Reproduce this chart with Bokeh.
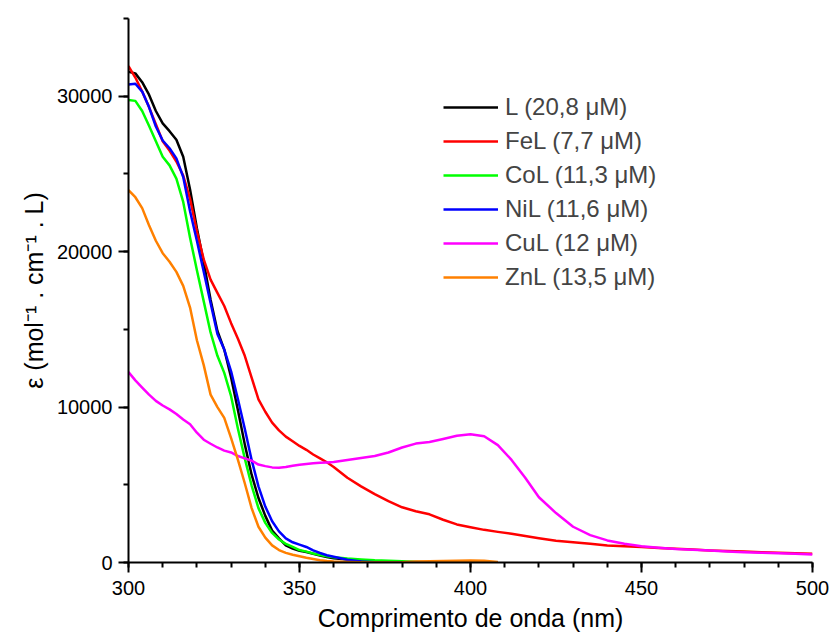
from bokeh.plotting import figure
from bokeh.models import Range1d, FixedTicker, Legend, LegendItem
from bokeh.embed import file_html
from bokeh.resources import INLINE

# ---- data ----
wl = ([300, 302, 304, 306, 308, 310, 312, 314, 316, 318, 320, 322, 324, 326, 328, 330,
       332, 334, 336, 338, 340, 342, 344, 346, 348, 350, 352, 354, 356, 358, 360]
      + [364, 368, 372, 376, 380, 384, 388, 392, 396, 400, 404, 408, 412, 416, 420]
      + [425, 430, 435, 440, 445, 450, 455, 460, 465, 470, 475, 480, 485, 490, 495, 500])

eps_L = [31570, 31470, 30900, 30100, 29050, 28250, 27750, 27200, 26100, 24000, 21500,
         19300, 16900, 14900, 13700, 11900, 9800, 7600, 5650, 4150, 3000, 2050, 1550,
         1100, 900, 750, 680, 560, 450, 360, 280,
         200, 150, 100, 80, 50, 40, 20, 10, 0, 0, 0, 0]

eps_Fe = [31940, 31200, 30300, 29300, 28200, 27100, 26500, 25800, 24900, 23400, 21300,
          19500, 18200, 17350, 16500, 15400, 14400, 13300, 11900, 10500, 9700, 9000, 8500,
          8100, 7800, 7500, 7250, 6950, 6700, 6450, 6150,
          5450, 4900, 4400, 3950, 3550, 3300, 3100, 2750, 2450, 2270, 2100, 1970, 1850,
          1700, 1560,
          1400, 1310, 1200, 1090, 1040, 990, 930, 880, 830, 780, 740, 700, 660, 630, 600, 560]

eps_Co = [29750, 29700, 29050, 28100, 27100, 26100, 25550, 24700, 23200, 20900, 18800,
          16800, 14800, 13300, 12200, 10700, 8600, 6700, 4950, 3500, 2550, 1900, 1480,
          1200, 1000, 800, 700, 580, 480, 400, 340,
          260, 200, 150, 120, 80, 40, 10, 0, 0, 0, 0, 0]

eps_Ni = [30760, 30800, 30300, 29300, 28050, 27150, 26650, 26000, 24800, 22600, 20700,
          18700, 16700, 14700, 13700, 12300, 10500, 8600, 6600, 4900, 3600, 2650, 2000,
          1550, 1300, 1150, 1000, 780, 610, 470, 370,
          180, 70, 20, 0, 0, 0, 0, 0, 0, 0, 0, 0]

eps_Cu = [12250, 11720, 11250, 10800, 10400, 10100, 9850, 9550, 9200, 8900, 8350, 7900,
          7640, 7400, 7200, 7080, 6850, 6700, 6550, 6300, 6200, 6120, 6100, 6150, 6230,
          6290, 6340, 6380, 6420, 6440, 6460,
          6600, 6720, 6850, 7080, 7400, 7650, 7750, 7940, 8150, 8250, 8120, 7550, 6600,
          5450, 4200,
          3180, 2300, 1760, 1420, 1200, 1050, 950, 870, 820, 770, 710, 660, 630, 600, 560, 520]

eps_Zn = [23950, 23500, 22800, 21700, 20700, 19900, 19350, 18700, 17800, 16400, 14300,
          12700, 10800, 10000, 9300, 8000, 6600, 5100, 3500, 2300, 1600, 1100, 800,
          620, 500, 400, 300, 220, 150, 100, 60,
          30, 10, 0, 0, 20, 60, 80, 100, 120, 130, 110, 40]

labels = ["L (20,8 \u03bcM)", "FeL (7,7 \u03bcM)", "CoL (11,3 \u03bcM)",
          "NiL (11,6 \u03bcM)", "CuL (12 \u03bcM)", "ZnL (13,5 \u03bcM)"]
colors = ["#000000", "#ff0000", "#00ff00", "#0000ff", "#ff00ff", "#ff8000"]
series = [eps_L, eps_Fe, eps_Co, eps_Ni, eps_Cu, eps_Zn]

x_ticks = [300, 350, 400, 450, 500]
x_minor = list(range(300, 501, 10))
y_ticks = [0, 10000, 20000, 30000]
y_minor = list(range(0, 35001, 5000))

FONT = "Liberation Sans"

p = figure(width=830, height=639, output_backend="svg", toolbar_location=None,
           x_range=Range1d(300, 500), y_range=Range1d(0, 35000),
           min_border_left=128, min_border_right=18, min_border_top=18,
           min_border_bottom=77)
p.xgrid.visible = False
p.ygrid.visible = False
p.outline_line_color = None
p.background_fill_color = "white"
p.border_fill_color = "white"

items = []
for lab, col, ys in zip(labels, colors, series):
    r = p.line(wl[:len(ys)], ys, line_color=col, line_width=2.5, line_join="round")
    items.append(LegendItem(label=lab, renderers=[r]))

p.xaxis.ticker = FixedTicker(ticks=x_ticks, minor_ticks=x_minor)
p.yaxis.ticker = FixedTicker(ticks=y_ticks, minor_ticks=y_minor)

for ax in (p.xaxis[0], p.yaxis[0]):
    ax.axis_line_width = 2
    ax.axis_line_color = "black"
    ax.major_tick_line_width = 2
    ax.minor_tick_line_width = 2
    ax.major_tick_out = 10
    ax.major_tick_in = 0
    ax.minor_tick_out = 5
    ax.minor_tick_in = 0
    ax.major_label_text_font = FONT
    ax.major_label_text_font_size = "20px"
    ax.major_label_text_color = "black"
    ax.axis_label_text_font = FONT
    ax.axis_label_text_font_size = "25px"
    ax.axis_label_text_font_style = "normal"
    ax.axis_label_text_color = "black"

p.xaxis.axis_label = "Comprimento de onda (nm)"
p.yaxis.axis_label = "\u03b5 (mol\u207b\u00b9 . cm\u207b\u00b9 . L)"
p.xaxis.major_label_standoff = 8
p.yaxis.major_label_standoff = 6
p.xaxis.axis_label_standoff = 6
p.yaxis.axis_label_standoff = 6

legend = Legend(items=items, location=(315, 271), border_line_color=None,
                background_fill_alpha=0, padding=0, margin=0, spacing=6,
                glyph_width=55, glyph_height=20, label_standoff=7,
                label_text_font=FONT, label_text_font_size="24px",
                label_height=20)
p.add_layout(legend)

open("out.html", "w").write(file_html(p, INLINE))
